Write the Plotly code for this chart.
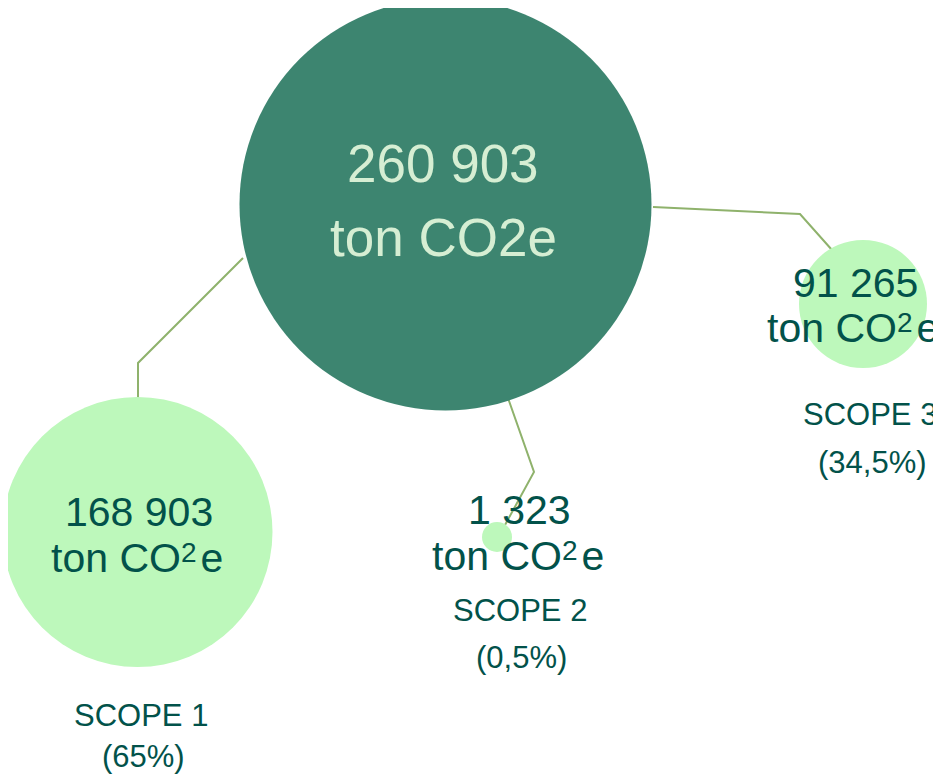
import plotly.graph_objects as go

# ---- data ----
scopes = ["SCOPE 1", "SCOPE 2", "SCOPE 3"]
emissions = [168903, 1323, 91265]          # ton CO2e per scope
shares = ["65%", "0,5%", "34,5%"]
total = 260903
unit_total = "ton CO2e"
unit_scope = ("ton CO"
              '<span style="font-size:28px;baseline-shift:10px;letter-spacing:4px">2</span>'
              "e")

# ---- layout (pixel positions of the diagram, page coordinates) ----
W, H = 941, 779
PAD = 8  # page body margin in front of the plot div
hub = dict(x=445.5, y=204.5, d=412)
bub_x = [137.5, 497, 863]
bub_y = [532, 537, 304]
bub_d = [270, 30, 128]
# connector elbows: start on hub edge, elbow, end on bubble edge
conn_x = [[243, 138, 138], [508, 534, 505], [653, 800, 832]]
conn_y = [[258, 363, 400], [398, 472, 525], [207, 214, 250]]
# label positions
num_xy = [(139, 512), (519, 510), (855, 283)]
unit_xy = [(137, 558), (518, 556), (853, 328)]
scope_xy = [(141, 715), (520, 610), (870, 414)]
share_xy = [(143, 756), (521, 657), (872, 462)]

HUB_C = "#3d8570"
BUB_C = "#bdf8bb"
DARK = "#02524a"
LIGHT = "#d6eed3"
LINE_C = "#8fb26c"
FONT = "Arial, Liberation Sans, sans-serif"


def fmt(v):
    return f"{v:,}".replace(",", " ")


fig = go.Figure()

for cx, cy in zip(conn_x, conn_y):
    fig.add_trace(go.Scatter(x=cx, y=cy, mode="lines",
                             line=dict(color=LINE_C, width=2),
                             hoverinfo="skip", showlegend=False))

fig.add_trace(go.Scatter(x=[hub["x"]], y=[hub["y"]], mode="markers",
                         marker=dict(size=hub["d"], color=HUB_C, line=dict(width=0)),
                         hoverinfo="skip", showlegend=False))
fig.add_trace(go.Scatter(x=bub_x, y=bub_y, mode="markers",
                         marker=dict(size=bub_d, color=BUB_C, line=dict(width=0), opacity=1),
                         hoverinfo="skip", showlegend=False))

ann = []
ann.append(dict(x=443, y=163, text=fmt(total), font=dict(size=53, color=LIGHT, family=FONT)))
ann.append(dict(x=443, y=237, text=unit_total, font=dict(size=53, color=LIGHT, family=FONT)))
for i in range(3):
    ann.append(dict(x=num_xy[i][0], y=num_xy[i][1], text=fmt(emissions[i]),
                    font=dict(size=41, color=DARK, family=FONT)))
    ann.append(dict(x=unit_xy[i][0], y=unit_xy[i][1], text=unit_scope,
                    font=dict(size=41, color=DARK, family=FONT)))
    ann.append(dict(x=scope_xy[i][0], y=scope_xy[i][1], text=scopes[i],
                    font=dict(size=31, color=DARK, family=FONT)))
    ann.append(dict(x=share_xy[i][0], y=share_xy[i][1], text=f"({shares[i]})",
                    font=dict(size=31, color=DARK, family=FONT)))
for a in ann:
    a.update(xref="x", yref="y", showarrow=False, xanchor="center", yanchor="middle")

fig.update_layout(
    width=W - PAD, height=H - PAD,
    margin=dict(l=0, r=0, t=0, b=0),
    paper_bgcolor="white", plot_bgcolor="white",
    xaxis=dict(range=[PAD, W], visible=False, fixedrange=True),
    yaxis=dict(range=[H, PAD], visible=False, fixedrange=True),
    annotations=ann,
    showlegend=False,
)

fig.write_html("out.html")
